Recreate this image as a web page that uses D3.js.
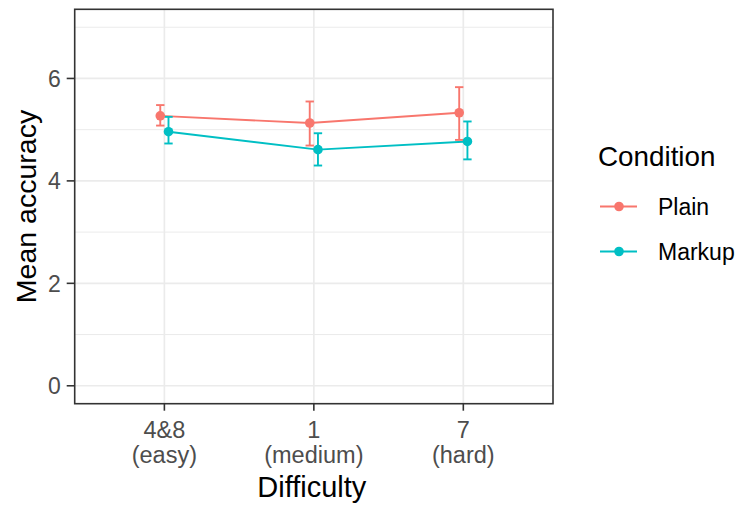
<!DOCTYPE html>
<html>
<head>
<meta charset="utf-8">
<script src="https://cdn.jsdelivr.net/npm/d3@7"></script>
<style>
  body { margin: 0; background: #fff; }
  text { font-family: Arial, "Liberation Sans", sans-serif; }
</style>
</head>
<body>
<div id="chart"></div>
<script>
// categories (two-line tick labels)
const difficulty = ["4&8", "1", "7"];
const difficultyNote = ["(easy)", "(medium)", "(hard)"];

// series: mean accuracy with error bars
const conditions = ["Plain", "Markup"];
const colors = ["#F8766D", "#00BFC4"];
const plainMean = [5.27, 5.13, 5.33];
const plainLow = [5.08, 4.69, 4.80];
const plainHigh = [5.48, 5.55, 5.83];
const markupMean = [4.96, 4.61, 4.77];
const markupLow = [4.73, 4.30, 4.42];
const markupHigh = [5.25, 4.93, 5.16];

const yMajor = [0, 2, 4, 6];
const yMinor = [1, 3, 5, 7];

const width = 741;
const height = 505;
const panel = { left: 74.7, right: 553, top: 9.3, bottom: 403.7 };

const series = [
  { name: conditions[0], color: colors[0], mean: plainMean, lo: plainLow, hi: plainHigh, dodge: -0.0275 },
  { name: conditions[1], color: colors[1], mean: markupMean, lo: markupLow, hi: markupHigh, dodge: 0.0275 }
];

const svg = d3
  .select("#chart")
  .append("svg")
  .attr("width", width)
  .attr("height", height);

// discrete x positions 1..3, ggplot expansion of 0.6
const x = d3.scaleLinear().domain([0.4, 3.6]).range([panel.left, panel.right]);
const y = d3.scaleLinear().domain([-0.35, 7.35]).range([panel.bottom, panel.top]);

const grid = svg.append("g");
grid
  .selectAll("line.minor")
  .data(yMinor)
  .join("line")
  .attr("x1", panel.left)
  .attr("x2", panel.right)
  .attr("y1", d => y(d))
  .attr("y2", d => y(d))
  .attr("stroke", "#EBEBEB")
  .attr("stroke-width", 1);
grid
  .selectAll("line.major")
  .data(yMajor)
  .join("line")
  .attr("x1", panel.left)
  .attr("x2", panel.right)
  .attr("y1", d => y(d))
  .attr("y2", d => y(d))
  .attr("stroke", "#EBEBEB")
  .attr("stroke-width", 1.7);
grid
  .selectAll("line.xmajor")
  .data(difficulty)
  .join("line")
  .attr("x1", (d, i) => x(i + 1))
  .attr("x2", (d, i) => x(i + 1))
  .attr("y1", panel.top)
  .attr("y2", panel.bottom)
  .attr("stroke", "#EBEBEB")
  .attr("stroke-width", 1.7);

const line = d3
  .line()
  .x(d => d[0])
  .y(d => d[1]);

// lines
svg
  .append("g")
  .selectAll("path")
  .data(series)
  .join("path")
  .attr("d", s => line(s.mean.map((v, i) => [x(i + 1 + s.dodge), y(v)])))
  .attr("fill", "none")
  .attr("stroke", s => s.color)
  .attr("stroke-width", 1.9);

// error bars
const capHalf = 0.028;
series.forEach(s => {
  const g = svg.append("g").attr("stroke", s.color).attr("stroke-width", 1.9);
  s.mean.forEach((v, i) => {
    const cx = i + 1 + s.dodge;
    g.append("line")
      .attr("x1", x(cx)).attr("x2", x(cx))
      .attr("y1", y(s.lo[i])).attr("y2", y(s.hi[i]));
    g.append("line")
      .attr("x1", x(cx - capHalf)).attr("x2", x(cx + capHalf))
      .attr("y1", y(s.lo[i])).attr("y2", y(s.lo[i]));
    g.append("line")
      .attr("x1", x(cx - capHalf)).attr("x2", x(cx + capHalf))
      .attr("y1", y(s.hi[i])).attr("y2", y(s.hi[i]));
  });
});

// points
series.forEach(s => {
  svg
    .append("g")
    .selectAll("circle")
    .data(s.mean)
    .join("circle")
    .attr("cx", (d, i) => x(i + 1 + s.dodge))
    .attr("cy", d => y(d))
    .attr("r", 4.8)
    .attr("fill", s.color);
});

// panel border
svg
  .append("rect")
  .attr("x", panel.left)
  .attr("y", panel.top)
  .attr("width", panel.right - panel.left)
  .attr("height", panel.bottom - panel.top)
  .attr("fill", "none")
  .attr("stroke", "#333333")
  .attr("stroke-width", 1.6);

// y axis
const yAxis = svg.append("g");
yAxis
  .selectAll("line")
  .data(yMajor)
  .join("line")
  .attr("x1", panel.left - 8)
  .attr("x2", panel.left)
  .attr("y1", d => y(d))
  .attr("y2", d => y(d))
  .attr("stroke", "#333333")
  .attr("stroke-width", 1.6);
yAxis
  .selectAll("text")
  .data(yMajor)
  .join("text")
  .attr("x", panel.left - 14)
  .attr("y", d => y(d))
  .attr("dy", "0.36em")
  .attr("text-anchor", "end")
  .attr("fill", "#4D4D4D")
  .style("font-size", "23px")
  .text(d => d);

// x axis
const xAxis = svg.append("g");
xAxis
  .selectAll("line")
  .data(difficulty)
  .join("line")
  .attr("x1", (d, i) => x(i + 1))
  .attr("x2", (d, i) => x(i + 1))
  .attr("y1", panel.bottom)
  .attr("y2", panel.bottom + 7)
  .attr("stroke", "#333333")
  .attr("stroke-width", 1.6);
const xLabels = xAxis
  .selectAll("text")
  .data(difficulty)
  .join("text")
  .attr("text-anchor", "middle")
  .attr("fill", "#4D4D4D")
  .style("font-size", "23.5px");
xLabels
  .append("tspan")
  .attr("x", (d, i) => x(i + 1))
  .attr("y", 438)
  .text(d => d);
xLabels
  .append("tspan")
  .attr("x", (d, i) => x(i + 1))
  .attr("y", 463)
  .text((d, i) => difficultyNote[i]);

// axis titles
svg
  .append("text")
  .attr("x", (panel.left + panel.right) / 2 - 2)
  .attr("y", 497)
  .attr("text-anchor", "middle")
  .style("font-size", "29px")
  .text("Difficulty");
svg
  .append("text")
  .attr("transform", `translate(36, ${(panel.top + panel.bottom) / 2}) rotate(-90)`)
  .attr("text-anchor", "middle")
  .style("font-size", "28.5px")
  .text("Mean accuracy");

// legend
const legend = svg.append("g").attr("transform", "translate(598, 0)");
legend
  .append("text")
  .attr("x", 0)
  .attr("y", 166)
  .style("font-size", "27.8px")
  .text("Condition");
const keys = legend
  .selectAll("g.key")
  .data(series)
  .join("g")
  .attr("transform", (d, i) => `translate(0, ${206.5 + i * 45})`);
keys
  .append("line")
  .attr("x1", 2)
  .attr("x2", 39)
  .attr("stroke", d => d.color)
  .attr("stroke-width", 1.9);
keys
  .append("circle")
  .attr("cx", 21)
  .attr("r", 4.8)
  .attr("fill", d => d.color);
keys
  .append("text")
  .attr("x", 60)
  .attr("dy", "0.36em")
  .style("font-size", "23px")
  .text(d => d.name);
</script>
</body>
</html>
